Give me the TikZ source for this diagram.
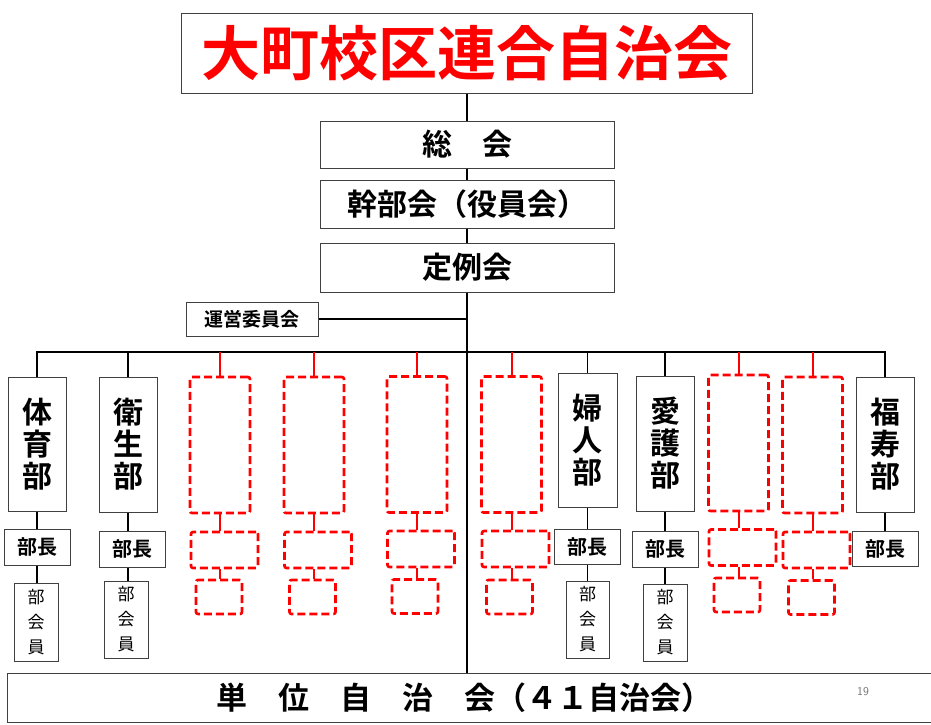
\documentclass[tikz,border=0pt]{standalone}
\usepackage{fontspec}
\newfontfamily\jp{Noto Sans CJK JP}[BoldFont={Noto Sans CJK JP Bold}]
\begin{document}
\begin{tikzpicture}[x=1pt,y=-1pt,
  bx/.style={draw=black!75,line width=1pt,fill=white,inner sep=0pt,align=center},
  dbx/.style={draw=red,line width=2.6pt,dash pattern=on 8pt off 4pt,rounded corners=2pt,inner sep=0pt},
  conn/.style={line width=1.8pt,black},
  rconn/.style={line width=2pt,red},
  bigtxt/.style={font={\jp\bfseries\fontsize{30}{32}\selectfont}},
  midtxt/.style={font={\jp\bfseries\fontsize{20}{22}\selectfont}},
  smtxt/.style={font={\jp\fontsize{17}{25}\selectfont}},
  deptbox/.style={bx,bigtxt,minimum width=58pt,minimum height=135pt},
  buchobox/.style={bx,midtxt,minimum width=66pt,minimum height=36pt},
  kaiinbox/.style={bx,smtxt,minimum width=44pt,minimum height=77pt},
  dbig/.style={dbx,minimum width=60pt,minimum height=136pt},
  dmid/.style={dbx,minimum width=67pt,minimum height=36pt},
  dsmall/.style={dbx,minimum width=46pt,minimum height=34pt}
]
\useasboundingbox (0,0) rectangle (931,724);
% top column
\node[bx,minimum width=571pt,minimum height=80pt,text=red,font={\jp\bfseries\fontsize{59}{61}\selectfont}] (title) at (467,53) {大町校区連合自治会};
\node[bx,bigtxt,minimum width=294pt,minimum height=47pt] (sokai) at (467,144.5) {総　会};
\node[bx,bigtxt,minimum width=294pt,minimum height=48pt] (kanbu) at (467,204) {幹部会（役員会）};
\node[bx,bigtxt,minimum width=294pt,minimum height=49pt] (teirei) at (467,267.5) {定例会};
\node[bx,font={\jp\bfseries\fontsize{19}{21}\selectfont},minimum width=132pt,minimum height=34pt] (unei) at (252,319) {運営委員会};
\node[bx,font={\jp\bfseries\fontsize{31}{33}\selectfont},minimum width=934pt,minimum height=49pt] (tani) at (474,697.5) {};
\node[font={\jp\bfseries\fontsize{31}{33}\selectfont},inner sep=0pt] (tanitxt) at (464,697.5) {単　位　自　治　会（４１自治会）};
\node[text=black!55,font={\fontsize{12}{14}\selectfont\sffamily},inner sep=0pt] (page) at (863,692) {19};

\coordinate (bus) at (0,352);
% spine
\draw[conn] (title.south) -- (sokai.north);
\draw[conn] (sokai.south) -- (kanbu.north);
\draw[conn] (kanbu.south) -- (teirei.north);
\draw[conn] (teirei.south) -- (tani.north -| teirei.south);
\draw[conn] (unei.east) -- (unei.east -| teirei.south);

% departments
\node[deptbox,minimum height=134pt] (d1) at (37,444) {体\\育\\部};
\node[buchobox] (b1) at (37,547) {部長};
\node[kaiinbox,minimum height=78pt] (k1) at (36,622) {部\\会\\員};
\node[deptbox] (d2) at (128,444.5) {衛\\生\\部};
\node[buchobox] (b2) at (132,549) {部長};
\node[kaiinbox] (k2) at (126,619.5) {部\\会\\員};
\node[deptbox,minimum width=59pt,minimum height=134pt] (d3) at (587.5,440) {婦\\人\\部};
\node[buchobox,minimum height=35pt] (b3) at (587,546.5) {部長};
\node[kaiinbox,minimum width=43pt] (k3) at (587.5,619.5) {部\\会\\員};
\node[deptbox] (d4) at (665,443.5) {愛\\護\\部};
\node[buchobox] (b4) at (665,549) {部長};
\node[kaiinbox] (k4) at (665,622.5) {部\\会\\員};
\node[deptbox] (d5) at (885,444.5) {福\\寿\\部};
\node[buchobox,minimum height=35pt] (b5) at (885,548.5) {部長};

% bus
\draw[conn] (d1.north) -- (d1.north |- bus) -- (d5.north |- bus) -- (d5.north);
\foreach \d in {d2,d3,d4}{\draw[conn] (\d.north |- bus) -- (\d.north);}
\foreach \d/\b in {d1/b1,d2/b2,d3/b3,d4/b4,d5/b5}{\draw[conn] (\d.south) -- (\d.south |- \b.north);}
\foreach \d/\b/\k in {d1/b1/k1,d2/b2/k2,d3/b3/k3,d4/b4/k4}{\draw[conn] (\d.south |- \b.south) -- (\d.south |- \k.north);}

% dashed placeholders
\node[dbig] (g1) at (220,445) {};
\node[dmid] (m1) at (224.5,550) {};
\node[dsmall] (s1) at (219,597) {};
\node[dbig] (g2) at (314,445) {};
\node[dmid] (m2) at (318,550) {};
\node[dsmall] (s2) at (312.5,597) {};
\node[dbig] (g3) at (417,444.5) {};
\node[dmid] (m3) at (421,549) {};
\node[dsmall] (s3) at (415,596.5) {};
\node[dbig] (g4) at (511.5,444.5) {};
\node[dmid] (m4) at (515.5,549) {};
\node[dsmall] (s4) at (509.5,597) {};
\node[dbig] (g5) at (738.5,443) {};
\node[dmid] (m5) at (742.5,547.5) {};
\node[dsmall] (s5) at (737,595) {};
\node[dbig] (g6) at (812.5,445) {};
\node[dmid] (m6) at (816.5,550) {};
\node[dsmall] (s6) at (811.5,597.5) {};
\foreach \g/\m/\s in {g1/m1/s1,g2/m2/s2,g3/m3/s3,g4/m4/s4,g5/m5/s5,g6/m6/s6}{
  \draw[rconn] (\g.north |- bus) -- (\g.north);
  \draw[rconn] (\g.south) -- (\g.south |- \m.north);
  \draw[rconn] (\g.south |- \m.south) -- (\g.south |- \s.north);
}
\end{tikzpicture}
\end{document}
